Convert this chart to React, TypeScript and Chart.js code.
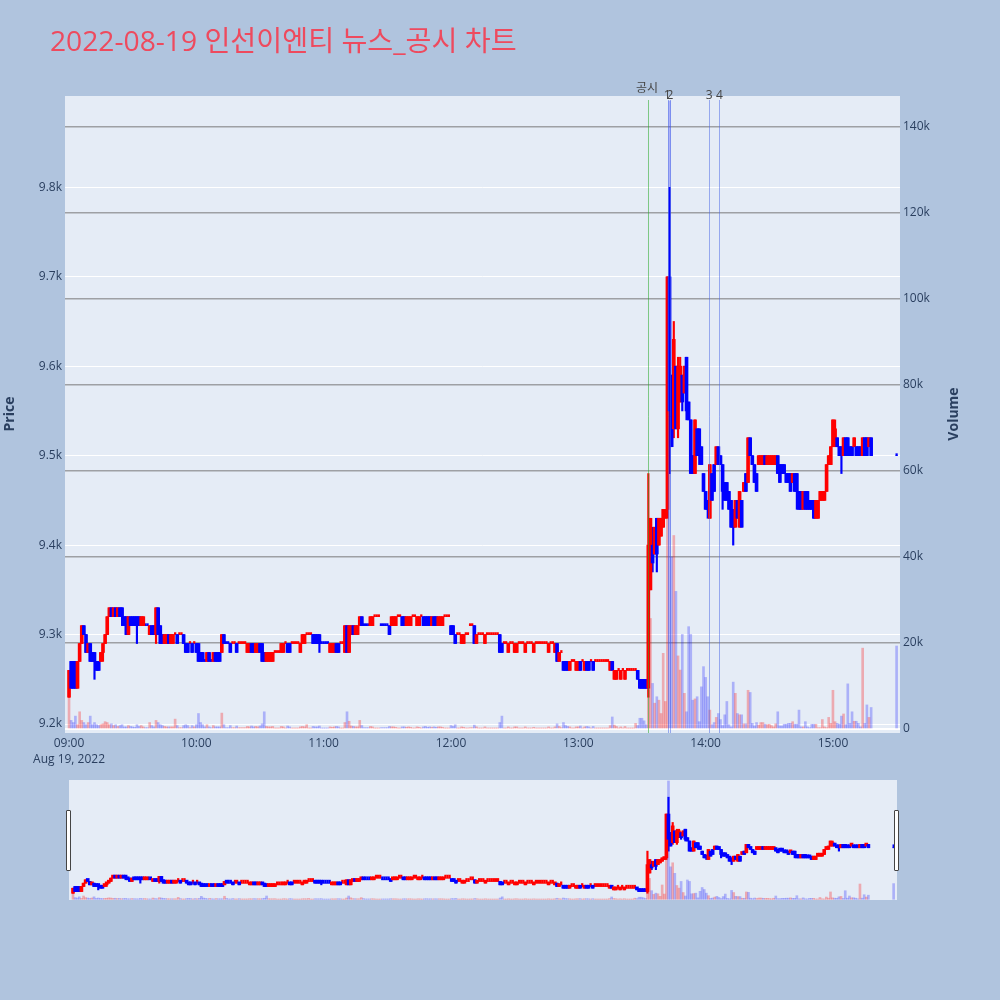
import React, { useEffect, useRef } from "react";
import { Chart, registerables } from "chart.js";

Chart.register(...registerables);

const TITLE = "2022-08-19 인선이엔티 뉴스_공시 차트";
const PRICE_TITLE = "Price";
const VOLUME_TITLE = "Volume";

// minutes after 09:00 (0..378 regular session, 390 = 15:30 closing auction)
const regularMinutes = Array.from({ length: 379 }, (_, i) => i);
const closingAuctionMinute = 390;
const minutes = [...regularMinutes, closingAuctionMinute];

const opens = [
  9230,9270,9270,9270,9240,9270,9290,9310,9300,9280,
  9290,9280,9280,9270,9270,9270,9280,9290,9300,9320,
  9330,9320,9330,9320,9330,9330,9320,9320,9300,9320,
  9320,9320,9320,9320,9310,9310,9310,9310,9300,9310,
  9310,9300,9330,9310,9300,9290,9290,9300,9290,9290,
  9300,9300,9300,9300,9300,9290,9290,9290,9290,9290,
  9290,9290,9280,9280,9270,9270,9280,9270,9270,9280,
  9280,9280,9280,9300,9290,9290,9290,9290,9290,9290,
  9290,9290,9290,9290,9280,9280,9290,9290,9280,9280,
  9290,9290,9280,9270,9270,9270,9270,9280,9280,9280,
  9280,9280,9290,9290,9290,9290,9290,9290,9290,9280,
  9290,9290,9300,9300,9300,9300,9300,9300,9300,9290,
  9290,9290,9290,9280,9280,9280,9290,9290,9290,9290,
  9280,9310,9280,9300,9310,9300,9300,9310,9320,9310,
  9310,9310,9310,9310,9320,9320,9320,9310,9310,9310,
  9310,9310,9310,9310,9310,9320,9320,9320,9320,9310,
  9310,9310,9320,9320,9310,9310,9320,9320,9320,9320,
  9320,9310,9320,9320,9310,9310,9310,9320,9320,9320,
  9310,9310,9300,9300,9300,9290,9290,9300,9300,9310,
  9310,9310,9290,9300,9300,9300,9290,9300,9300,9300,
  9300,9300,9300,9300,9290,9290,9290,9280,9290,9290,
  9280,9280,9290,9290,9290,9280,9290,9290,9290,9280,
  9290,9290,9290,9290,9290,9290,9280,9290,9290,9280,
  9290,9270,9280,9270,9270,9270,9260,9270,9270,9260,
  9260,9270,9270,9260,9270,9270,9270,9270,9270,9270,
  9270,9270,9270,9270,9270,9260,9270,9250,9250,9260,
  9250,9260,9250,9260,9260,9260,9260,9260,9260,9250,
  9250,9250,9250,9240,9350,9400,9390,9430,9400,9410,
  9420,9430,9440,9700,9590,9530,9600,9530,9560,9590,
  9570,9610,9560,9540,9500,9480,9530,9530,9510,9480,
  9460,9450,9430,9480,9490,9490,9510,9500,9490,9470,
  9470,9460,9450,9440,9420,9450,9420,9450,9460,9480,
  9470,9520,9500,9490,9480,9490,9490,9490,9500,9490,
  9490,9490,9490,9490,9500,9490,9490,9490,9480,9480,
  9480,9470,9480,9480,9460,9460,9440,9460,9460,9450,
  9450,9450,9430,9430,9450,9450,9450,9460,9490,9490,
  9510,9510,9520,9510,9510,9500,9520,9520,9510,9510,
  9510,9510,9510,9510,9500,9520,9520,9510,9520,
  9500,
];

const highs = [
  9260,9270,9270,9270,9270,9290,9310,9310,9300,9290,
  9290,9280,9280,9270,9270,9280,9290,9300,9320,9330,
  9330,9330,9330,9330,9330,9330,9320,9320,9320,9320,
  9320,9320,9320,9320,9320,9320,9310,9310,9310,9310,
  9310,9330,9330,9310,9300,9300,9300,9300,9300,9300,
  9300,9300,9300,9300,9300,9290,9290,9290,9290,9290,
  9290,9290,9280,9280,9270,9280,9280,9270,9280,9280,
  9280,9280,9300,9300,9290,9290,9290,9290,9290,9290,
  9290,9290,9290,9290,9290,9290,9290,9290,9290,9290,
  9290,9290,9280,9280,9280,9280,9280,9280,9280,9280,
  9290,9290,9290,9290,9290,9290,9290,9290,9290,9290,
  9300,9300,9300,9300,9300,9300,9300,9300,9300,9290,
  9290,9290,9290,9290,9290,9290,9290,9290,9290,9290,
  9310,9310,9310,9310,9310,9310,9310,9320,9320,9310,
  9310,9310,9320,9320,9320,9320,9320,9310,9310,9310,
  9310,9310,9320,9320,9320,9320,9320,9320,9320,9320,
  9320,9320,9320,9320,9320,9320,9320,9320,9320,9320,
  9320,9320,9320,9320,9320,9320,9320,9320,9320,9320,
  9310,9310,9300,9300,9300,9300,9300,9300,9300,9310,
  9310,9310,9300,9300,9300,9300,9300,9300,9300,9300,
  9300,9300,9300,9300,9290,9290,9290,9290,9290,9290,
  9290,9290,9290,9290,9290,9290,9290,9290,9290,9290,
  9290,9290,9290,9290,9290,9290,9290,9290,9290,9290,
  9290,9280,9280,9270,9270,9270,9270,9270,9270,9270,
  9270,9270,9270,9270,9270,9270,9270,9270,9270,9270,
  9270,9270,9270,9270,9270,9270,9270,9260,9260,9260,
  9260,9260,9260,9260,9260,9260,9260,9260,9260,9250,
  9250,9250,9250,9480,9430,9420,9420,9430,9430,9430,
  9440,9440,9700,9800,9590,9650,9600,9610,9610,9590,
  9600,9610,9560,9540,9500,9540,9530,9530,9510,9480,
  9460,9450,9490,9480,9490,9510,9510,9500,9490,9470,
  9470,9460,9450,9440,9450,9450,9460,9450,9470,9480,
  9520,9520,9500,9490,9480,9500,9500,9500,9500,9500,
  9500,9500,9500,9500,9500,9490,9490,9490,9480,9480,
  9480,9480,9480,9480,9460,9460,9460,9460,9460,9450,
  9450,9450,9450,9450,9460,9460,9460,9490,9500,9510,
  9540,9540,9520,9510,9510,9520,9520,9520,9510,9510,
  9520,9510,9510,9510,9520,9520,9520,9520,9520,
  9500,
];

const lows = [
  9230,9240,9240,9240,9240,9270,9290,9300,9280,9280,
  9270,9270,9250,9260,9260,9270,9270,9290,9300,9320,
  9320,9320,9320,9320,9320,9310,9310,9300,9300,9310,
  9310,9310,9290,9310,9310,9310,9310,9310,9300,9300,
  9300,9290,9300,9290,9290,9290,9290,9290,9290,9290,
  9300,9290,9300,9300,9290,9280,9280,9290,9280,9290,
  9280,9270,9270,9270,9270,9270,9270,9270,9270,9270,
  9270,9270,9280,9290,9290,9290,9280,9290,9290,9280,
  9290,9290,9290,9290,9280,9280,9280,9280,9280,9280,
  9280,9270,9270,9270,9270,9270,9270,9280,9280,9280,
  9280,9280,9290,9280,9280,9290,9290,9290,9290,9280,
  9290,9290,9300,9300,9300,9290,9290,9290,9280,9290,
  9290,9290,9290,9280,9280,9280,9280,9280,9290,9290,
  9280,9280,9280,9300,9300,9300,9300,9310,9310,9310,
  9310,9310,9310,9310,9320,9320,9320,9310,9310,9310,
  9310,9300,9310,9310,9310,9320,9320,9310,9310,9310,
  9310,9310,9320,9320,9310,9310,9320,9310,9310,9310,
  9310,9310,9310,9310,9310,9310,9310,9320,9320,9320,
  9300,9300,9290,9300,9300,9290,9290,9300,9300,9310,
  9310,9290,9290,9300,9300,9300,9290,9300,9300,9300,
  9300,9300,9300,9280,9280,9290,9290,9280,9290,9290,
  9280,9280,9290,9290,9290,9280,9290,9290,9290,9280,
  9290,9290,9290,9290,9290,9290,9280,9290,9290,9280,
  9270,9270,9280,9260,9260,9260,9260,9270,9270,9260,
  9260,9260,9270,9260,9260,9260,9270,9260,9270,9270,
  9270,9270,9270,9270,9270,9260,9260,9250,9250,9260,
  9250,9260,9250,9260,9260,9260,9260,9260,9250,9240,
  9240,9240,9240,9230,9350,9370,9390,9370,9400,9410,
  9420,9430,9430,9480,9510,9520,9530,9520,9560,9550,
  9570,9540,9540,9480,9480,9480,9500,9490,9490,9460,
  9440,9430,9430,9450,9460,9490,9490,9490,9440,9450,
  9450,9440,9420,9400,9420,9430,9420,9420,9460,9460,
  9470,9500,9490,9470,9460,9490,9490,9490,9490,9490,
  9490,9490,9490,9490,9480,9470,9480,9480,9470,9470,
  9460,9470,9460,9440,9440,9440,9440,9440,9440,9440,
  9440,9430,9430,9430,9450,9450,9450,9460,9490,9490,
  9510,9510,9510,9500,9480,9500,9500,9500,9500,9500,
  9510,9500,9500,9500,9500,9500,9500,9510,9500,
  9500,
];

const closes = [
  9260,9240,9240,9240,9270,9290,9310,9300,9280,9290,
  9270,9270,9270,9260,9260,9280,9290,9300,9320,9330,
  9320,9330,9320,9330,9320,9320,9310,9300,9320,9310,
  9310,9310,9310,9310,9320,9320,9310,9310,9310,9300,
  9300,9330,9300,9290,9290,9300,9300,9290,9300,9300,
  9300,9290,9300,9300,9290,9280,9280,9290,9280,9290,
  9280,9270,9270,9270,9270,9280,9270,9270,9280,9270,
  9270,9270,9300,9290,9290,9290,9280,9290,9290,9280,
  9290,9290,9290,9290,9290,9290,9280,9280,9290,9290,
  9280,9270,9270,9280,9280,9280,9280,9280,9280,9280,
  9290,9290,9290,9280,9280,9290,9290,9290,9290,9290,
  9300,9300,9300,9300,9300,9290,9290,9290,9290,9290,
  9290,9290,9290,9290,9290,9290,9280,9280,9290,9290,
  9310,9280,9310,9310,9300,9310,9310,9320,9310,9310,
  9310,9310,9320,9320,9320,9320,9320,9310,9310,9310,
  9310,9300,9320,9320,9320,9320,9320,9310,9310,9320,
  9320,9320,9320,9320,9320,9320,9320,9310,9310,9310,
  9310,9320,9310,9310,9320,9320,9320,9320,9320,9320,
  9300,9300,9290,9300,9300,9300,9300,9300,9300,9310,
  9310,9290,9300,9300,9300,9300,9300,9300,9300,9300,
  9300,9300,9300,9280,9280,9290,9290,9290,9290,9290,
  9290,9290,9290,9290,9290,9290,9290,9290,9290,9290,
  9290,9290,9290,9290,9290,9290,9290,9290,9290,9290,
  9270,9280,9280,9260,9260,9260,9270,9270,9270,9270,
  9270,9260,9270,9270,9260,9260,9270,9260,9270,9270,
  9270,9270,9270,9270,9270,9270,9260,9260,9260,9260,
  9260,9260,9260,9260,9260,9260,9260,9260,9250,9240,
  9240,9240,9240,9400,9430,9380,9420,9390,9430,9430,
  9440,9440,9700,9550,9510,9630,9530,9600,9600,9560,
  9600,9550,9540,9480,9480,9540,9500,9500,9490,9460,
  9440,9440,9490,9450,9460,9510,9490,9490,9460,9450,
  9450,9440,9420,9420,9450,9430,9460,9420,9470,9460,
  9520,9500,9490,9470,9460,9500,9500,9500,9490,9500,
  9500,9500,9500,9500,9480,9470,9480,9480,9470,9470,
  9460,9480,9460,9460,9440,9440,9460,9440,9440,9440,
  9440,9430,9450,9450,9460,9460,9460,9490,9500,9510,
  9540,9530,9510,9500,9500,9520,9500,9500,9500,9500,
  9520,9500,9500,9500,9520,9500,9500,9520,9500,
  9500,
];

const volumes = [
  7500,2000,1500,3000,1000,4000,2000,1500,1000,1500,
  3000,1000,1500,1000,800,1000,1200,1700,1500,1000,
  1200,800,1000,600,800,1000,500,500,800,600,
  500,400,1000,600,800,500,300,300,1500,800,
  500,2000,1500,1000,800,600,500,500,500,500,
  2300,800,300,300,800,1000,800,300,800,500,
  1000,3600,1500,1000,500,1000,500,300,800,500,
  500,500,3700,1000,300,300,800,300,300,700,
  300,300,300,300,600,500,700,500,600,500,
  700,1200,4000,600,500,500,600,200,200,200,
  600,500,200,700,500,200,200,200,200,500,
  600,500,1000,200,200,600,500,500,700,200,
  200,200,200,500,400,500,600,500,200,200,
  1500,4000,1800,700,600,500,500,2000,800,300,
  300,300,600,500,200,200,200,300,300,300,
  300,600,500,500,400,200,200,500,500,400,
  500,400,200,200,500,400,200,500,600,400,
  500,400,500,400,500,500,400,200,200,200,
  800,600,1000,200,200,500,400,200,200,300,
  300,900,500,200,200,200,500,200,200,200,
  200,200,200,1500,3000,200,200,500,200,200,
  500,500,200,200,200,500,200,200,200,400,
  200,200,200,200,200,200,500,200,200,500,
  1200,600,300,1500,800,600,500,200,200,500,
  500,700,200,500,600,500,200,600,200,200,
  200,200,200,200,200,800,2800,900,600,200,
  500,200,600,200,200,200,200,1300,800,2500,
  2500,1900,1000,9000,25700,10600,6000,7500,6700,3600,
  17600,6400,52000,146000,40000,45000,32000,17000,13700,22000,
  8300,4000,23800,22000,6700,7000,7500,1700,9800,14500,
  12000,7500,4400,1000,1500,2700,3600,2200,800,3300,
  6400,1000,500,10900,8300,3600,3300,3300,1200,1200,
  9000,8500,1300,700,1500,900,1500,1500,1100,1000,
  1100,800,500,1200,4000,700,700,1100,1100,1300,
  1300,1700,1100,1100,4400,500,500,1700,500,300,
  1100,1100,1100,300,300,2200,500,300,2700,1300,
  9000,1700,1300,1100,3000,3500,1000,10500,1300,4000,
  1800,1800,1300,500,18800,1300,5600,2700,5000,
  19300,
];

const xTickMinutes = [0, 60, 120, 180, 240, 300, 360];
const xTickLabels: (string | string[])[] = [["09:00", "Aug 19, 2022"], "10:00", "11:00", "12:00", "13:00", "14:00", "15:00"];
const priceTicks = [9200, 9300, 9400, 9500, 9600, 9700, 9800];
const priceTickLabels = ["9.2k", "9.3k", "9.4k", "9.5k", "9.6k", "9.7k", "9.8k"];
const volumeTicks = [0, 20000, 40000, 60000, 80000, 100000, 120000, 140000];
const volumeTickLabels = ["0", "20k", "40k", "60k", "80k", "100k", "120k", "140k"];

const newsMinutes = [272.9, 282.4, 283.0, 301.7, 306.5];
const newsLabels = ["공시", "1", "2", "3", "4"];
const newsKinds = ["disclosure", "news", "news", "news", "news"];
const newsLabelShift = [-1, -1, 0.3, 0, 0];

const X_MIN = -1.9;
const X_MAX = 391.6;
const PRICE_MIN = 9190;
const PRICE_MAX = 9902;
const VOL_MIN = -930;
const VOL_MAX = 147200;

const UP = "#ff0000";
const DOWN = "#0000ff";
const UP_VOL = "rgba(255,0,0,0.28)";
const DOWN_VOL = "rgba(0,0,255,0.25)";
const PLOT_BG = "#E5ECF6";
const PAGE_BG = "#B0C4DE";
const TEXT = "#2a3f5f";
const FONT = "'Open Sans', 'Noto Sans CJK KR', 'DejaVu Sans', sans-serif";

function directions(): boolean[] {
  const out: boolean[] = [];
  let prevClose: number | null = null;
  let prevUp = true;
  for (let i = 0; i < minutes.length; i++) {
    const o = opens[i];
    const c = closes[i];
    let up: boolean;
    if (c > o) up = true;
    else if (c < o) up = false;
    else if (prevClose !== null && c !== prevClose) up = c > prevClose;
    else up = prevUp;
    out.push(up);
    prevUp = up;
    prevClose = c;
  }
  return out;
}

function buildDatasets(bodyW: number, flatW: number, wickW: number, volW: number, minLen: number) {
  const dirs = directions();
  const n = minutes.length;
  const idx = Array.from({ length: n }, (_, i) => i);
  const colors = idx.map((i) => (dirs[i] ? UP : DOWN));
  return [
    {
      type: "bar" as const,
      label: "body",
      data: idx.map((i) => ({ x: minutes[i], y: opens[i] !== closes[i] ? [opens[i], closes[i]] : null })),
      backgroundColor: colors,
      borderWidth: 0,
      barThickness: bodyW,
      minBarLength: minLen,
      yAxisID: "y",
      stack: "c",
      order: 1,
    },
    {
      type: "bar" as const,
      label: "flat body",
      data: idx.map((i) => ({ x: minutes[i], y: opens[i] === closes[i] ? [opens[i], closes[i]] : null })),
      backgroundColor: colors,
      borderWidth: 0,
      barThickness: flatW,
      minBarLength: minLen,
      yAxisID: "y",
      stack: "c",
      order: 1,
    },
    {
      type: "bar" as const,
      label: "wick",
      data: idx.map((i) => ({ x: minutes[i], y: [lows[i], highs[i]] })),
      backgroundColor: colors,
      borderWidth: 0,
      barThickness: wickW,
      yAxisID: "y",
      stack: "c",
      order: 2,
    },
    {
      type: "bar" as const,
      label: "volume",
      data: idx.map((i) => ({ x: minutes[i], y: volumes[i] })),
      backgroundColor: idx.map((i) => (dirs[i] ? UP_VOL : DOWN_VOL)),
      borderWidth: 0,
      barThickness: volW,
      yAxisID: "y2",
      stack: "c",
      order: 3,
    },
  ];
}

const bgPlugin = {
  id: "plotBg",
  beforeDraw(chart: any) {
    const { ctx, chartArea: a } = chart;
    ctx.save();
    ctx.fillStyle = PLOT_BG;
    ctx.fillRect(a.left, a.top, a.right - a.left, a.bottom - a.top);
    ctx.restore();
  },
};

const decorPlugin = {
  id: "decor",
  afterDatasetsDraw(chart: any) {
    const { ctx, chartArea: a, scales } = chart;
    ctx.save();
    for (let i = 0; i < newsMinutes.length; i++) {
      const x = Math.round(scales.x.getPixelForValue(newsMinutes[i])) + 0.5;
      ctx.strokeStyle = newsKinds[i] === "disclosure" ? "rgba(40,170,40,0.55)" : "rgba(70,100,230,0.5)";
      ctx.lineWidth = 1;
      ctx.beginPath();
      ctx.moveTo(x, a.top + 4);
      ctx.lineTo(x, a.bottom);
      ctx.stroke();
    }
    ctx.restore();
  },
  afterDraw(chart: any) {
    const { ctx, scales } = chart;
    ctx.save();
    // title
    ctx.fillStyle = "#EE4A5E";
    ctx.font = `28.2px ${FONT}`;
    ctx.textAlign = "left";
    ctx.textBaseline = "alphabetic";
    ctx.fillText(TITLE, 50, 51);
    // news labels
    ctx.fillStyle = "#444";
    ctx.font = `12px ${FONT}`;
    ctx.textAlign = "center";
    ctx.textBaseline = "middle";
    for (let i = 0; i < newsMinutes.length; i++) {
      const x = scales.x.getPixelForValue(newsMinutes[i]);
      ctx.fillText(newsLabels[i], x + newsLabelShift[i], i === 0 ? 89 : 96);
    }
    // axis titles
    ctx.fillStyle = TEXT;
    ctx.font = `bold 14px ${FONT}`;
    ctx.save();
    ctx.translate(10, 414);
    ctx.rotate(-Math.PI / 2);
    ctx.fillText(PRICE_TITLE, 0, 0);
    ctx.restore();
    ctx.save();
    ctx.translate(954, 414);
    ctx.rotate(-Math.PI / 2);
    ctx.fillText(VOLUME_TITLE, 0, 0);
    ctx.restore();
    ctx.restore();
  },
};

export default function App() {
  const mainRef = useRef<HTMLCanvasElement>(null);
  const sliderRef = useRef<HTMLCanvasElement>(null);

  useEffect(() => {
    Chart.defaults.font.family = FONT;
    const charts: Chart[] = [];
    const tickFont = { size: 12, family: FONT };

    if (mainRef.current) {
      charts.push(
        new Chart(mainRef.current, {
          type: "bar",
          data: { datasets: buildDatasets(3, 1.6, 1.5, 2, 2) as any },
          options: {
            responsive: false,
            animation: false,
            events: [],
            layout: { padding: { top: 96, left: 0, right: 0, bottom: 0 } },
            plugins: { legend: { display: false }, tooltip: { enabled: false } },
            scales: {
              x: {
                type: "linear",
                min: X_MIN,
                max: X_MAX,
                offset: false,
                stacked: true,
                grid: { display: false, drawTicks: false, offset: false },
                border: { display: false },
                afterBuildTicks: (s: any) => {
                  s.ticks = xTickMinutes.map((v) => ({ value: v }));
                },
                afterFit: (s: any) => {
                  s.height = 37;
                },
                ticks: {
                  autoSkip: false,
                  maxRotation: 0,
                  padding: 2,
                  color: TEXT,
                  font: { ...tickFont, lineHeight: 1.35 },
                  callback: (v: any) => {
                    const k = xTickMinutes.indexOf(Number(v));
                    return k >= 0 ? xTickLabels[k] : "";
                  },
                },
              },
              y: {
                type: "linear",
                position: "left",
                min: PRICE_MIN,
                max: PRICE_MAX,
                stacked: false,
                border: { display: false },
                grid: { color: "#ffffff", lineWidth: 1, drawTicks: false },
                afterBuildTicks: (s: any) => {
                  s.ticks = priceTicks.map((v) => ({ value: v }));
                },
                afterFit: (s: any) => {
                  s.width = 65;
                },
                ticks: {
                  padding: 3,
                  color: TEXT,
                  font: tickFont,
                  callback: (v: any) => {
                    const k = priceTicks.indexOf(Number(v));
                    return k >= 0 ? priceTickLabels[k] : "";
                  },
                },
              },
              y2: {
                type: "linear",
                position: "right",
                min: VOL_MIN,
                max: VOL_MAX,
                stacked: false,
                border: { display: false },
                grid: {
                  drawTicks: false,
                  color: (c: any) => (c.tick && c.tick.value === 0 ? "#ffffff" : "rgba(110,110,110,0.6)"),
                  lineWidth: (c: any) => (c.tick && c.tick.value === 0 ? 2 : 1.5),
                },
                afterBuildTicks: (s: any) => {
                  s.ticks = volumeTicks.map((v) => ({ value: v }));
                },
                afterFit: (s: any) => {
                  s.width = 100;
                },
                ticks: {
                  padding: 3,
                  color: TEXT,
                  font: tickFont,
                  callback: (v: any) => {
                    const k = volumeTicks.indexOf(Number(v));
                    return k >= 0 ? volumeTickLabels[k] : "";
                  },
                },
              },
            },
          } as any,
          plugins: [bgPlugin, decorPlugin],
        })
      );
    }

    if (sliderRef.current) {
      charts.push(
        new Chart(sliderRef.current, {
          type: "bar",
          data: { datasets: buildDatasets(3, 1.6, 1.5, 2, 3) as any },
          options: {
            responsive: false,
            animation: false,
            events: [],
            layout: { padding: 0 },
            plugins: { legend: { display: false }, tooltip: { enabled: false } },
            scales: {
              x: { type: "linear", min: X_MIN, max: X_MAX, offset: false, stacked: true, display: false },
              y: { type: "linear", min: PRICE_MIN, max: PRICE_MAX, stacked: false, display: false },
              y2: { type: "linear", min: VOL_MIN, max: VOL_MAX, stacked: false, display: false },
            },
          } as any,
          plugins: [bgPlugin],
        })
      );
    }

    return () => charts.forEach((c) => c.destroy());
  }, []);

  const handle: React.CSSProperties = {
    position: "absolute",
    top: 810,
    width: 3,
    height: 59,
    background: "#ffffff",
    border: "1px solid #444",
    borderRadius: 1,
  };

  return (
    <div style={{ position: "absolute", left: 0, top: 0, width: 1000, height: 1000, background: PAGE_BG, overflow: "hidden" }}>
      <canvas ref={mainRef} width={1000} height={770} style={{ position: "absolute", left: 0, top: 0 }} />
      <canvas ref={sliderRef} width={828} height={120} style={{ position: "absolute", left: 69, top: 780 }} />
      <div style={{ ...handle, left: 66 }} />
      <div style={{ ...handle, left: 894 }} />
    </div>
  );
}
